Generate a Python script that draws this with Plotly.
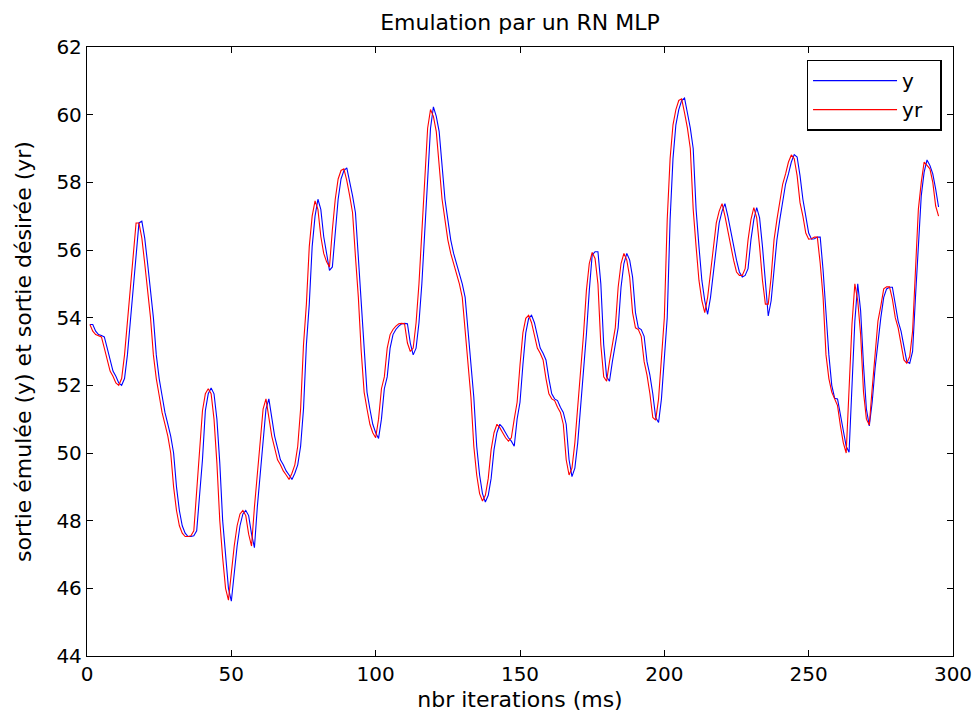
import plotly.graph_objects as go

# desired output (yr), one value per iteration
yr = [
    53.8, 53.6, 53.5, 53.47, 53.43, 53.1, 52.8, 52.42, 52.27, 52.07,
    52.0, 52.2, 52.9, 53.9, 54.9, 55.9, 56.8, 56.8, 56.35, 55.6,
    54.85, 54.0, 52.9, 52.2, 51.7, 51.2, 50.85, 50.5, 50.0, 49.0,
    48.3, 47.85, 47.63, 47.53, 47.53, 47.55, 47.7, 48.85, 49.8, 51.25,
    51.75, 51.9, 51.75, 51.0, 49.7, 48.0, 46.9, 46.0, 45.65, 46.5,
    47.25, 47.85, 48.2, 48.3, 48.15, 47.6, 47.25, 48.4, 49.4, 50.55,
    51.3, 51.6, 51.0, 50.5, 50.15, 49.8, 49.65, 49.47, 49.35, 49.22,
    49.4, 49.65, 50.2, 51.3, 53.2, 54.4, 56.1, 57.0, 57.45, 57.2,
    56.4, 55.9, 55.65, 55.5, 56.6, 57.5, 58.1, 58.35, 58.4, 58.05,
    57.6, 57.1, 55.8, 54.6, 53.0, 51.8, 51.3, 50.85, 50.6, 50.45,
    51.0, 51.9, 52.25, 53.1, 53.5, 53.65, 53.75, 53.82, 53.83, 53.82,
    53.25, 53.0, 53.1, 53.85, 55.0, 56.5, 58.2, 59.6, 60.15, 59.95,
    59.5, 58.5, 57.5, 56.9, 56.3, 55.9, 55.62, 55.35, 55.0, 54.6,
    53.6, 52.6, 51.65, 50.2, 49.35, 48.8, 48.58, 48.75, 49.25, 50.1,
    50.6, 50.85, 50.75, 50.6, 50.45, 50.35, 50.45, 51.0, 51.5, 52.6,
    53.55, 53.98, 54.07, 53.85, 53.45, 53.1, 52.95, 52.75, 52.2, 51.75,
    51.6, 51.55, 51.35, 51.2, 50.85, 49.8, 49.35, 49.55, 50.3, 51.3,
    52.55, 53.5, 54.8, 55.6, 55.93, 55.75, 55.0, 53.2, 52.25, 52.12,
    52.7, 53.2, 53.7, 54.9, 55.6, 55.9, 55.7, 55.2, 54.15, 53.7,
    53.65, 53.45, 52.7, 52.3, 51.75, 51.05, 50.97, 51.6, 52.85, 54.0,
    56.9, 58.7, 59.7, 60.15, 60.42, 60.47, 60.05, 59.6, 59.0, 57.2,
    56.1, 55.1, 54.5, 54.15, 54.6, 55.35, 56.0, 56.8, 57.15, 57.37,
    57.0, 56.55, 56.1, 55.7, 55.35, 55.25, 55.25, 55.45, 56.3, 56.9,
    57.25, 56.95, 56.1, 55.1, 54.4, 54.4, 55.2, 56.3, 56.9, 57.5,
    57.95, 58.25, 58.6, 58.81, 58.7, 58.2, 57.4, 57.0, 56.5, 56.32,
    56.33, 56.38, 56.38, 55.6, 54.6, 52.9, 52.2, 51.8, 51.62, 51.4,
    50.8, 50.3, 50.0, 52.1, 53.8, 55.0, 54.5, 53.5, 51.8, 51.0,
    50.83, 51.9, 52.8, 53.9, 54.35, 54.85, 54.91, 54.91, 54.55, 54.0,
    53.7, 53.25, 52.75, 52.65, 52.85, 53.6, 55.5, 57.2, 58.0, 58.6,
    58.5, 58.4, 58.0, 57.3, 57.0,
]

# emulated output (y), one value per iteration
y = [
    53.8, 53.8, 53.6, 53.5, 53.47, 53.43, 53.1, 52.8, 52.42, 52.27,
    52.07, 52.0, 52.2, 52.9, 53.9, 54.9, 55.9, 56.8, 56.85, 56.35,
    55.6, 54.85, 54.0, 52.9, 52.2, 51.7, 51.2, 50.85, 50.5, 50.0,
    49.0, 48.3, 47.85, 47.63, 47.53, 47.53, 47.55, 47.7, 48.85, 49.8,
    51.25, 51.75, 51.92, 51.75, 51.0, 49.7, 48.0, 46.9, 46.0, 45.62,
    46.5, 47.25, 47.85, 48.2, 48.3, 48.15, 47.6, 47.2, 48.4, 49.4,
    50.55, 51.3, 51.6, 51.0, 50.5, 50.15, 49.8, 49.65, 49.47, 49.35,
    49.22, 49.4, 49.65, 50.2, 51.3, 53.2, 54.4, 56.1, 57.0, 57.5,
    57.2, 56.4, 55.9, 55.4, 55.5, 56.6, 57.5, 58.1, 58.35, 58.43,
    58.05, 57.6, 57.1, 55.8, 54.6, 53.0, 51.8, 51.3, 50.85, 50.6,
    50.43, 51.0, 51.9, 52.25, 53.1, 53.5, 53.65, 53.75, 53.82, 53.83,
    53.82, 53.25, 52.9, 53.1, 53.85, 55.0, 56.5, 58.2, 59.6, 60.23,
    59.95, 59.5, 58.5, 57.5, 56.9, 56.3, 55.9, 55.62, 55.35, 55.0,
    54.6, 53.6, 52.6, 51.65, 50.2, 49.35, 48.8, 48.55, 48.75, 49.25,
    50.1, 50.6, 50.85, 50.75, 50.6, 50.45, 50.35, 50.2, 51.0, 51.5,
    52.6, 53.55, 53.98, 54.07, 53.85, 53.45, 53.1, 52.95, 52.75, 52.2,
    51.75, 51.6, 51.55, 51.35, 51.2, 50.85, 49.8, 49.3, 49.55, 50.3,
    51.3, 52.55, 53.5, 54.8, 55.85, 55.95, 55.95, 55.0, 53.2, 52.25,
    52.12, 52.7, 53.2, 53.7, 54.9, 55.6, 55.9, 55.7, 55.2, 54.15,
    53.7, 53.65, 53.45, 52.7, 52.3, 51.75, 51.05, 50.9, 51.6, 52.85,
    54.0, 56.9, 58.7, 59.7, 60.15, 60.42, 60.49, 60.05, 59.6, 59.0,
    57.2, 56.1, 55.1, 54.5, 54.1, 54.6, 55.35, 56.0, 56.8, 57.15,
    57.37, 57.0, 56.55, 56.1, 55.7, 55.35, 55.2, 55.25, 55.45, 56.3,
    56.9, 57.25, 56.95, 56.1, 55.1, 54.05, 54.5, 55.4, 56.3, 56.9,
    57.5, 57.95, 58.25, 58.6, 58.82, 58.75, 58.2, 57.5, 57.0, 56.5,
    56.32, 56.33, 56.38, 56.38, 55.4, 54.0, 52.9, 52.0, 51.62, 51.6,
    51.1, 50.6, 50.2, 50.02, 52.0, 53.9, 55.0, 54.2, 52.6, 51.3,
    50.8, 51.5, 52.5, 53.3, 54.0, 54.6, 54.85, 54.9, 54.9, 54.4,
    53.9, 53.6, 53.1, 52.7, 52.65, 53.0, 54.6, 56.3, 57.6, 58.3,
    58.66, 58.5, 58.25, 57.8, 57.27,
]

# iteration numbers (1-based)
x_yr = list(range(1, len(yr) + 1))
x_y = list(range(1, len(y) + 1))

x_ticks = [0, 50, 100, 150, 200, 250, 300]
y_ticks = [44, 46, 48, 50, 52, 54, 56, 58, 60, 62]

FONT = "DejaVu Sans, Arial, sans-serif"
PAD = "\u00a0\u00a0"  # invisible trailing padding so the legend box is as wide as the original

fig = go.Figure()
fig.add_trace(go.Scatter(x=x_y, y=y, mode="lines", name="y",
                         line=dict(color="#0000ff", width=1.1)))
fig.add_trace(go.Scatter(x=x_yr, y=yr, mode="lines", name="yr" + PAD,
                         line=dict(color="#ff0000", width=1.1)))

axis_common = dict(showgrid=False, zeroline=False, showline=True, automargin=False,
                   linecolor="black", linewidth=1.3, mirror="ticks",
                   ticks="inside", ticklen=6, tickcolor="black", tickwidth=1,
                   tickfont=dict(family=FONT, size=20, color="black"))

fig.update_xaxes(range=[0, 300], tickvals=x_ticks, ticktext=[str(v) for v in x_ticks],
                 title=dict(text="nbr iterations (ms)", font=dict(family=FONT, size=22, color="black"),
                            standoff=6),
                 **axis_common)
fig.update_yaxes(range=[44, 62], tickvals=y_ticks, ticktext=[str(v) for v in y_ticks],
                 title=dict(text="sortie émulée (y) et sortie désirée (yr)",
                            font=dict(family=FONT, size=22, color="black"), standoff=18),
                 **axis_common)

fig.update_layout(
    template="none",
    width=979, height=724,
    margin=dict(l=87, r=26, t=47, b=68, autoexpand=False),
    paper_bgcolor="white", plot_bgcolor="white",
    title=dict(text="Emulation par un RN MLP", x=0.5, xref="paper",
               y=1 - 22 / 724, yref="container", yanchor="middle", xanchor="center",
               font=dict(family=FONT, size=22, color="black")),
    font=dict(family=FONT, color="black"),
    legend=dict(x=0.987, y=0.979, xanchor="right", yanchor="top",
                bgcolor="white", bordercolor="black", borderwidth=1.3,
                font=dict(family=FONT, size=20, color="black"),
                itemwidth=84, tracegroupgap=0),
    showlegend=True,
)

fig.write_html("out.html")
